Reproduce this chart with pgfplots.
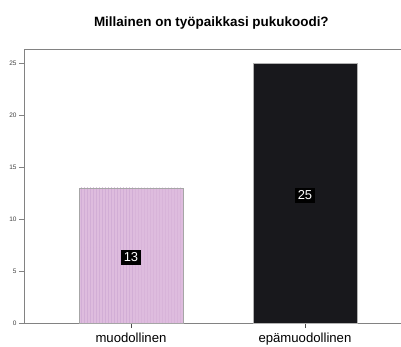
\documentclass[border=0pt]{standalone}
\usepackage{pgfplots}
\pgfplotsset{compat=1.18}
\usepackage{fontspec}
\setmainfont{Liberation Sans}
\usetikzlibrary{patterns}
\definecolor{pinkbar}{RGB}{222,188,222}
\definecolor{pinkline}{RGB}{205,168,210}
\definecolor{darkbar}{RGB}{24,24,28}
\definecolor{axgray}{RGB}{130,130,130}
\begin{document}
\begin{tikzpicture}
\useasboundingbox (0,0) rectangle (401bp,347bp);
\begin{axis}[
  at={(24bp,24bp)}, anchor=south west,
  scale only axis, width=377bp, height=274bp,
  xmin=-0.615, xmax=1.552, ymin=0, ymax=26.35,
  axis x line*=bottom, axis y line*=left,
  axis line style={axgray, line width=0.9pt, -},
  xtick={0,1}, xticklabels={muodollinen, epämuodollinen},
  xticklabel style={font=\fontsize{13.2}{14}\selectfont, text=black, yshift=-1.5bp},
  ytick={0,5,10,15,20,25},
  /pgf/number format/assume math mode=true,
  yticklabel style={font=\fontsize{6.5}{7}\selectfont, text=darkgray, xshift=1bp},
  tick align=outside, major tick length=5bp,
  tick style={axgray, line width=0.7pt},
  x tick style={black!70, line width=0.8pt},
  title={\textbf{Millainen on työpaikkasi pukukoodi?}},
  title style={font=\fontsize{13.5}{15}\selectfont, at={(0.497,1)}, yshift=10bp, anchor=south},
  clip=false,
]
\addplot[ybar, bar width=104bp, bar shift=0pt, draw=gray!70, fill=pinkbar,
  postaction={pattern=vertical lines, pattern color=pinkline}]
  coordinates {(0,13)};
\addplot[ybar, bar width=104bp, bar shift=0pt, draw=gray!60, fill=darkbar]
  coordinates {(1,25)};
\addplot[draw=none, mark=none, nodes near coords, nodes near coords align=center,
  point meta=explicit symbolic,
  every node near coord/.style={fill=black, text=white, inner sep=3bp,
    font=\fontsize{13}{14}\selectfont, anchor=center}]
  coordinates {(0,6.3)[13] (1,12.3)[25]};
\draw[axgray, line width=0.9pt] (rel axis cs:0,1) -- (rel axis cs:1,1);
\end{axis}
\end{tikzpicture}
\end{document}
